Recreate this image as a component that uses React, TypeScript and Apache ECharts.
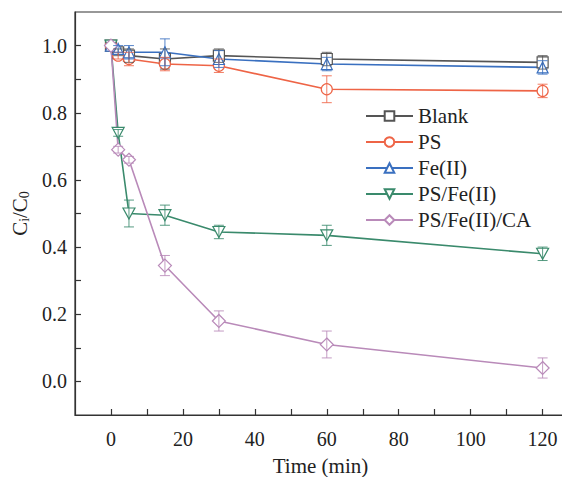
import React, { useEffect, useRef } from "react";
import * as echarts from "echarts";

const times = [0, 2, 5, 15, 30, 60, 120];
const blank = [1.0, 0.98, 0.97, 0.96, 0.97, 0.96, 0.95];
const blankErr = [0, 0.01, 0.02, 0.03, 0.02, 0.02, 0.02];
const ps = [1.0, 0.97, 0.96, 0.945, 0.94, 0.87, 0.865];
const psErr = [0, 0.01, 0.02, 0.02, 0.02, 0.04, 0.02];
const fe = [1.0, 0.99, 0.98, 0.98, 0.96, 0.945, 0.935];
const feErr = [0, 0.01, 0.02, 0.04, 0.025, 0.02, 0.02];
const psFe = [1.0, 0.74, 0.5, 0.495, 0.445, 0.435, 0.38];
const psFeErr = [0, 0.01, 0.04, 0.03, 0.02, 0.03, 0.02];
const psFeCa = [1.0, 0.69, 0.66, 0.345, 0.18, 0.11, 0.04];
const psFeCaErr = [0, 0.01, 0.01, 0.03, 0.03, 0.04, 0.03];

const xLabels = [0, 20, 40, 60, 80, 100, 120];
const xTicks = [0, 10, 20, 30, 40, 50, 60, 70, 80, 90, 100, 110, 120];
const yLabels = [0.0, 0.2, 0.4, 0.6, 0.8, 1.0];
const yTicks = [0.0, 0.1, 0.2, 0.3, 0.4, 0.5, 0.6, 0.7, 0.8, 0.9, 1.0];

const names = ["Blank", "PS", "Fe(II)", "PS/Fe(II)", "PS/Fe(II)/CA"];
const colors = ["#555555", "#ee6446", "#3a70c0", "#3a8a6c", "#b98ab9"];
const symbols = [
  "rect",
  "circle",
  "triangle",
  "path://M0,0 L10,0 L5,9 Z",
  "diamond",
];
const values = [blank, ps, fe, psFe, psFeCa];
const errors = [blankErr, psErr, feErr, psFeErr, psFeCaErr];

const FONT = "Liberation Serif";

export default function App() {
  const ref = useRef<HTMLDivElement>(null);
  useEffect(() => {
    if (!ref.current) return;
    const chart = echarts.init(ref.current, undefined, { renderer: "svg" });

    const lineSeries = names.map((n, i) => ({
      name: n,
      type: "line",
      data: times.map((t, k) => [t, values[i][k]]),
      symbol: symbols[i],
      symbolSize: i === 3 ? [12, 11] : i === 4 ? 13 : 11,
      lineStyle: { color: colors[i], width: 1.6 },
      itemStyle: { color: "#ffffff", borderColor: colors[i], borderWidth: 1.2 },
      z: 3,
    }));

    const errSeries = names.map((n, i) => ({
      name: n + "-err",
      type: "custom",
      data: times
        .map((t, k) => [t, values[i][k] - errors[i][k], values[i][k] + errors[i][k]])
        .filter((d, k) => errors[i][k] > 0),
      encode: { x: 0, y: [1, 2] },
      z: 4,
      silent: true,
      renderItem: (params: any, api: any) => {
        const x = api.value(0);
        const lo = api.coord([x, api.value(1)]);
        const hi = api.coord([x, api.value(2)]);
        const w = 5;
        const style = { stroke: colors[i], lineWidth: 1, opacity: 0.85 };
        return {
          type: "group",
          children: [
            { type: "line", shape: { x1: lo[0], y1: lo[1], x2: hi[0], y2: hi[1] }, style },
            { type: "line", shape: { x1: lo[0] - w, y1: lo[1], x2: lo[0] + w, y2: lo[1] }, style },
            { type: "line", shape: { x1: hi[0] - w, y1: hi[1], x2: hi[0] + w, y2: hi[1] }, style },
          ],
        };
      },
    }));

    const tickText = { fontFamily: FONT, fontSize: 20, color: "#222" };

    chart.setOption({
      animation: false,
      backgroundColor: "#ffffff",
      grid: {
        left: 75,
        right: 4,
        top: 12,
        bottom: 62,
        outerBoundsMode: "none",
        containLabel: false,
        show: true,
        borderColor: "#333",
        borderWidth: 1.2,
      },
      legend: {
        data: names,
        orient: "vertical",
        left: 360,
        top: 100,
        itemWidth: 47,
        itemHeight: 12,
        itemGap: 4,
        textStyle: { fontFamily: FONT, fontSize: 21, color: "#222", lineHeight: 22 },
      },
      xAxis: {
        type: "value",
        min: -10,
        max: 126.5,
        name: "Time (min)",
        nameLocation: "middle",
        nameGap: 40,
        nameTextStyle: { fontFamily: FONT, fontSize: 21, color: "#222" },
        axisLine: { show: true, onZero: false, lineStyle: { color: "#333", width: 1.2 } },
        axisTick: { show: true, inside: true, length: 6, customValues: xTicks, lineStyle: { color: "#333", width: 1.2 } },
        axisLabel: { customValues: xLabels, margin: 14, ...tickText },
        splitLine: { show: false },
      },
      yAxis: {
        type: "value",
        min: -0.1,
        max: 1.1,
        name: "{a|C}{s|i}{a|/C}{s|0}",
        nameLocation: "middle",
        nameGap: 42,
        nameTextStyle: {
          rich: {
            a: { fontFamily: FONT, fontSize: 21, color: "#222" },
            s: { fontFamily: FONT, fontSize: 14, color: "#222", verticalAlign: "bottom", padding: [9, 0, 0, 0] },
          },
        },
        axisLine: { show: true, onZero: false, lineStyle: { color: "#333", width: 1.2 } },
        axisTick: { show: true, inside: true, length: 6, customValues: yTicks, lineStyle: { color: "#333", width: 1.2 } },
        axisLabel: {
          customValues: yLabels,
          margin: 8,
          formatter: (v: number) => v.toFixed(1),
          ...tickText,
        },
        splitLine: { show: false },
      },
      series: [...lineSeries, ...errSeries],
    });
    return () => chart.dispose();
  }, []);
  return <div ref={ref} style={{ width: 570, height: 477, margin: "-8px 0 0 -8px" }} />;
}
